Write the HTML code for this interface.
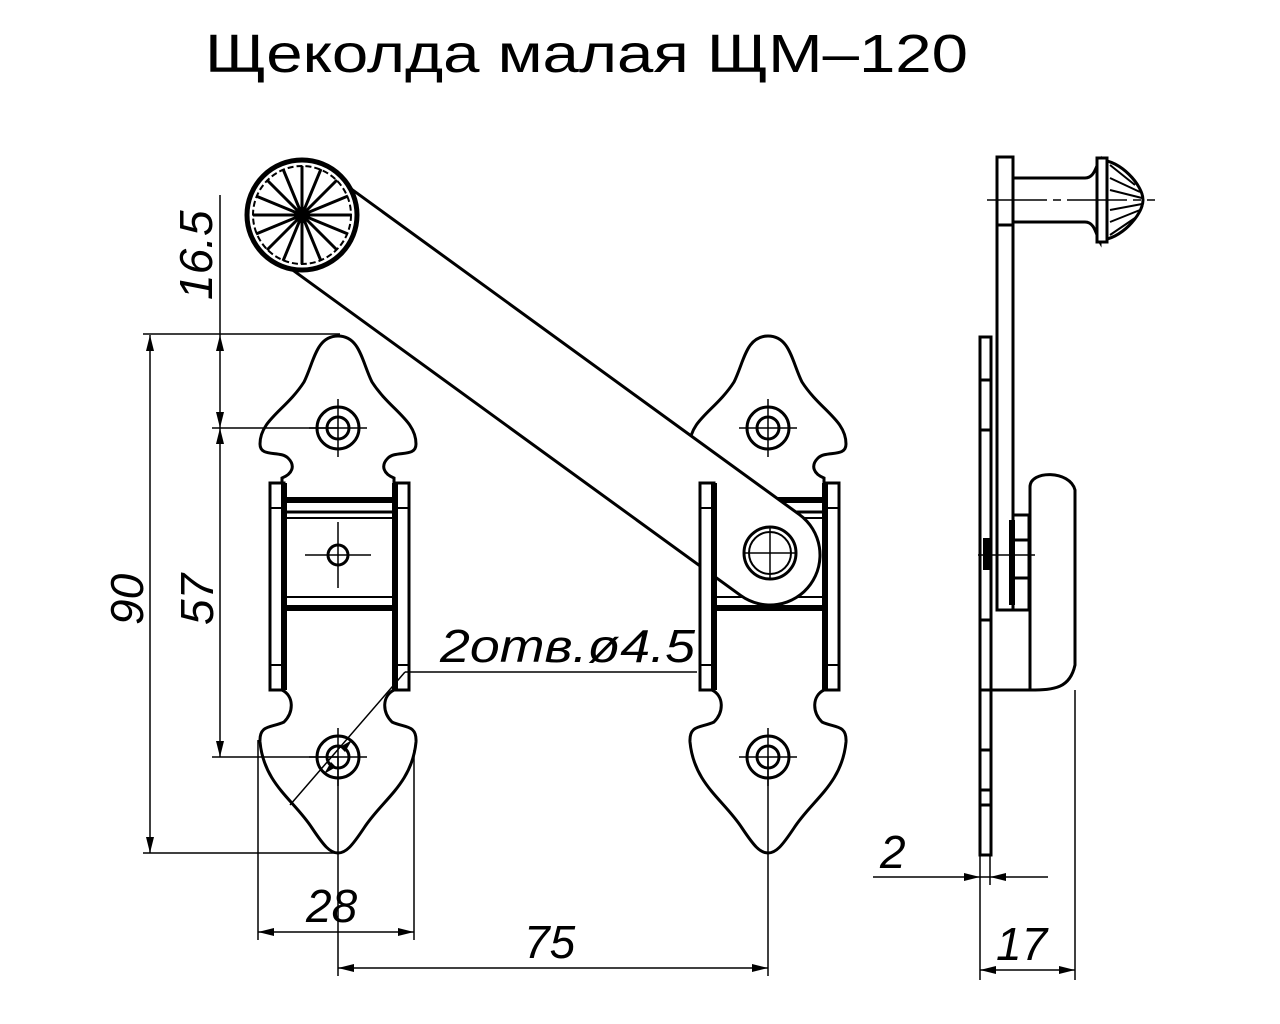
<!DOCTYPE html>
<html><head><meta charset="utf-8"><style>
html,body{margin:0;padding:0;background:#fff;}
svg{display:block;}
text{font-family:"Liberation Sans","DejaVu Sans",sans-serif;fill:#000;}
.d{font-style:italic;font-size:46px;}
</style></head><body>
<svg width="1280" height="1024" viewBox="0 0 1280 1024" xmlns="http://www.w3.org/2000/svg">
<rect width="1280" height="1024" fill="#fff"/>
<text x="205" y="72" font-size="54" textLength="763" lengthAdjust="spacingAndGlyphs">Щеколда  малая  ЩМ–120</text>

<defs>
<path id="plate" d="M0,336 C22,336 24,362 34,382 C52,410 78,420 78,444 C78,458 58,450 50,458 C42,466 46,474 56,478 L56,690 C44,696 44,712 54,722 C66,728 79,724 78,742 C74,784 44,800 26,828 C14,846 8,853 0,853 C-8,853 -14,846 -26,828 C-44,800 -74,784 -78,742 C-79,724 -66,728 -54,722 C-44,712 -44,696 -56,690 L-56,478 C-46,474 -42,466 -50,458 C-58,450 -78,458 -78,444 C-78,420 -52,410 -34,382 C-24,362 -22,336 0,336 Z"/>
<g id="vstrips">
<rect x="-68" y="483" width="14" height="207" fill="#fff" stroke="#000" stroke-width="3"/>
<rect x="57" y="483" width="14" height="207" fill="#fff" stroke="#000" stroke-width="3"/>
<line x1="-54" y1="483" x2="-54" y2="690" stroke="#000" stroke-width="6"/>
<line x1="57" y1="483" x2="57" y2="690" stroke="#000" stroke-width="6"/>
<line x1="-68" y1="508" x2="-54" y2="508" stroke="#000" stroke-width="2"/>
<line x1="57" y1="508" x2="71" y2="508" stroke="#000" stroke-width="2"/>
<line x1="-68" y1="665" x2="-54" y2="665" stroke="#000" stroke-width="2"/>
<line x1="57" y1="665" x2="71" y2="665" stroke="#000" stroke-width="2"/>
</g>
<g id="hbars">
<line x1="-54" y1="500" x2="57" y2="500" stroke="#000" stroke-width="6"/>
<line x1="-54" y1="512" x2="57" y2="512" stroke="#000" stroke-width="3"/>
<line x1="-54" y1="518" x2="57" y2="518" stroke="#000" stroke-width="2"/>
<line x1="-54" y1="597" x2="57" y2="597" stroke="#000" stroke-width="2"/>
<line x1="-54" y1="608" x2="57" y2="608" stroke="#000" stroke-width="6"/>
</g>
<g id="hole">
<circle r="21" fill="none" stroke="#000" stroke-width="3"/>
<circle r="11" fill="none" stroke="#000" stroke-width="3"/>
<line x1="-29" y1="0" x2="29" y2="0" stroke="#000" stroke-width="1.5"/>
<line x1="0" y1="-29" x2="0" y2="29" stroke="#000" stroke-width="1.5"/>
</g>
</defs>

<!-- left plate -->
<g transform="translate(338,0)">
<use href="#plate" fill="#fff" stroke="#000" stroke-width="3"/>
<use href="#hbars"/>
<use href="#vstrips"/>
<g transform="translate(0,428)"><use href="#hole"/></g>
<g transform="translate(0,757)"><use href="#hole"/></g>
<circle cx="0" cy="555" r="10" fill="none" stroke="#000" stroke-width="3"/>
<line x1="-33" y1="555" x2="33" y2="555" stroke="#000" stroke-width="1.5"/>
<line x1="0" y1="522" x2="0" y2="588" stroke="#000" stroke-width="1.5"/>
</g>

<!-- right plate -->
<g transform="translate(768,0)">
<use href="#plate" fill="#fff" stroke="#000" stroke-width="3"/>
<use href="#hbars"/>
<g transform="translate(0,428)"><use href="#hole"/></g>
<g transform="translate(0,757)"><use href="#hole"/></g>
</g>
<path d="M700,492 C680,495 678,515 700,525" fill="none" stroke="#000" stroke-width="3"/>

<!-- bar -->
<line x1="302" y1="215" x2="770" y2="555" stroke="#000" stroke-width="103" stroke-linecap="round"/>
<line x1="302" y1="215" x2="770" y2="555" stroke="#fff" stroke-width="97" stroke-linecap="round"/>
<g transform="translate(768,0)"><use href="#vstrips"/></g>
<circle cx="770" cy="553" r="26" fill="#fff" stroke="#000" stroke-width="3"/>
<circle cx="770" cy="553" r="21" fill="none" stroke="#000" stroke-width="2"/>
<line x1="745" y1="553" x2="795" y2="553" stroke="#000" stroke-width="1.5"/>
<line x1="770" y1="528" x2="770" y2="578" stroke="#000" stroke-width="1.5"/>

<!-- knob -->
<circle cx="302" cy="215" r="55" fill="#fff" stroke="#000" stroke-width="5"/>
<circle cx="302" cy="215" r="49" fill="none" stroke="#000" stroke-width="2" stroke-dasharray="6 3"/>
<g stroke="#000" stroke-width="3">
<line x1="302" y1="166" x2="302" y2="264"/>
<line x1="253" y1="215" x2="351" y2="215"/>
<line x1="267" y1="180" x2="337" y2="250"/>
<line x1="337" y1="180" x2="267" y2="250"/>
<line x1="283" y1="169" x2="321" y2="261"/>
<line x1="321" y1="169" x2="283" y2="261"/>
<line x1="256" y1="196" x2="348" y2="234"/>
<line x1="348" y1="196" x2="256" y2="234"/>
</g>
<circle cx="302" cy="215" r="8" fill="#000"/>

<!-- side view -->
<g fill="#fff" stroke="#000" stroke-width="3">
<path d="M1013,178 L1085,178 C1095,178 1096,165 1100,160 L1100,242 C1096,235 1095,222 1085,222 L1013,222 Z"/>
<path d="M1100,160 C1120,160 1143,185 1143,200 C1143,215 1120,240 1100,240 Z"/>
<rect x="1097" y="158" width="10" height="84"/>
<rect x="997" y="157" width="16" height="453"/>
<path d="M1030,690 L1030,487 C1030,470 1070,470 1075,490 L1075,665 C1070,688 1055,690 1030,690 Z"/>
<rect x="1013" y="515" width="16" height="95"/>
<rect x="980" y="337" width="11" height="518"/>
</g>
<g stroke="#000" stroke-width="3">
<line x1="1012" y1="520" x2="1012" y2="605" stroke-width="6"/>
<line x1="997" y1="225" x2="1013" y2="225"/>
<line x1="980" y1="380" x2="991" y2="380"/>
<line x1="980" y1="430" x2="991" y2="430"/>
<line x1="980" y1="620" x2="991" y2="620"/>
<line x1="980" y1="690" x2="991" y2="690"/>
<line x1="980" y1="750" x2="991" y2="750"/>
<line x1="980" y1="790" x2="991" y2="790"/>
<line x1="980" y1="805" x2="991" y2="805"/>
<line x1="1013" y1="540" x2="1029" y2="540"/>
<line x1="1013" y1="578" x2="1029" y2="578"/>
<line x1="991" y1="690" x2="1030" y2="690"/>
</g>
<rect x="983" y="538" width="8" height="32" fill="#000"/>
<line x1="987" y1="200" x2="1155" y2="200" stroke="#000" stroke-width="1.5" stroke-dasharray="60 6 8 6"/>
<line x1="978" y1="555" x2="1035" y2="555" stroke="#000" stroke-width="1.5"/>
<g stroke="#000" stroke-width="2">
<line x1="1110" y1="165" x2="1135" y2="185"/><line x1="1110" y1="178" x2="1140" y2="192"/>
<line x1="1110" y1="190" x2="1142" y2="198"/><line x1="1110" y1="210" x2="1142" y2="204"/>
<line x1="1110" y1="222" x2="1140" y2="210"/><line x1="1110" y1="235" x2="1135" y2="218"/>
</g>

<!-- dimension lines -->
<g stroke="#000" stroke-width="1.5" fill="none">
<line x1="220" y1="195" x2="220" y2="335"/>
<line x1="143" y1="334" x2="340" y2="334"/>
<line x1="150" y1="335" x2="150" y2="853"/>
<line x1="220" y1="335" x2="220" y2="757"/>
<line x1="212" y1="428" x2="338" y2="428"/>
<line x1="212" y1="757" x2="338" y2="757"/>
<line x1="143" y1="853" x2="338" y2="853"/>
<line x1="258" y1="740" x2="258" y2="940"/>
<line x1="414" y1="750" x2="414" y2="940"/>
<line x1="258" y1="932" x2="414" y2="932"/>
<line x1="338" y1="757" x2="338" y2="976"/>
<line x1="768" y1="757" x2="768" y2="976"/>
<line x1="338" y1="968" x2="768" y2="968"/>
<line x1="873" y1="877" x2="1048" y2="877"/>
<line x1="980" y1="855" x2="980" y2="980"/>
<line x1="990" y1="855" x2="990" y2="885"/>
<line x1="1075" y1="690" x2="1075" y2="980"/>
<line x1="980" y1="970" x2="1075" y2="970"/>
<line x1="405" y1="672" x2="697" y2="672"/>
<line x1="405" y1="672" x2="290" y2="805"/>
</g>
<g fill="#000">
<path d="M150,335 l-4,16 h8 z"/><path d="M150,853 l-4,-16 h8 z"/>
<path d="M220,335 l-4,16 h8 z"/><path d="M220,428 l-4,-16 h8 z"/>
<path d="M220,428 l-4,16 h8 z"/><path d="M220,757 l-4,-16 h8 z"/>
<path d="M258,932 l16,-4 v8 z"/><path d="M414,932 l-16,-4 v8 z"/>
<path d="M338,968 l16,-4 v8 z"/><path d="M768,968 l-16,-4 v8 z"/>
<path d="M980,877 l-16,-4 v8 z"/><path d="M990,877 l16,-4 v8 z"/>
<path d="M980,970 l16,-4 v8 z"/><path d="M1075,970 l-16,-4 v8 z"/>
<path d="M352,740 l-12,7 5,5 z"/><path d="M324,774 l12,-7 -5,-5 z"/>
</g>
<text class="d" transform="translate(212,300) rotate(-90)">16.5</text>
<text class="d" transform="translate(143,625) rotate(-90)">90</text>
<text class="d" transform="translate(213,625) rotate(-90)">57</text>
<text class="d" x="306" y="922">28</text>
<text class="d" x="524" y="958">75</text>
<text class="d" x="880" y="868">2</text>
<text class="d" x="996" y="960">17</text>
<text class="d" x="440" y="662" textLength="255" lengthAdjust="spacingAndGlyphs">2отв.ø4.5</text>
</svg>
</body></html>
